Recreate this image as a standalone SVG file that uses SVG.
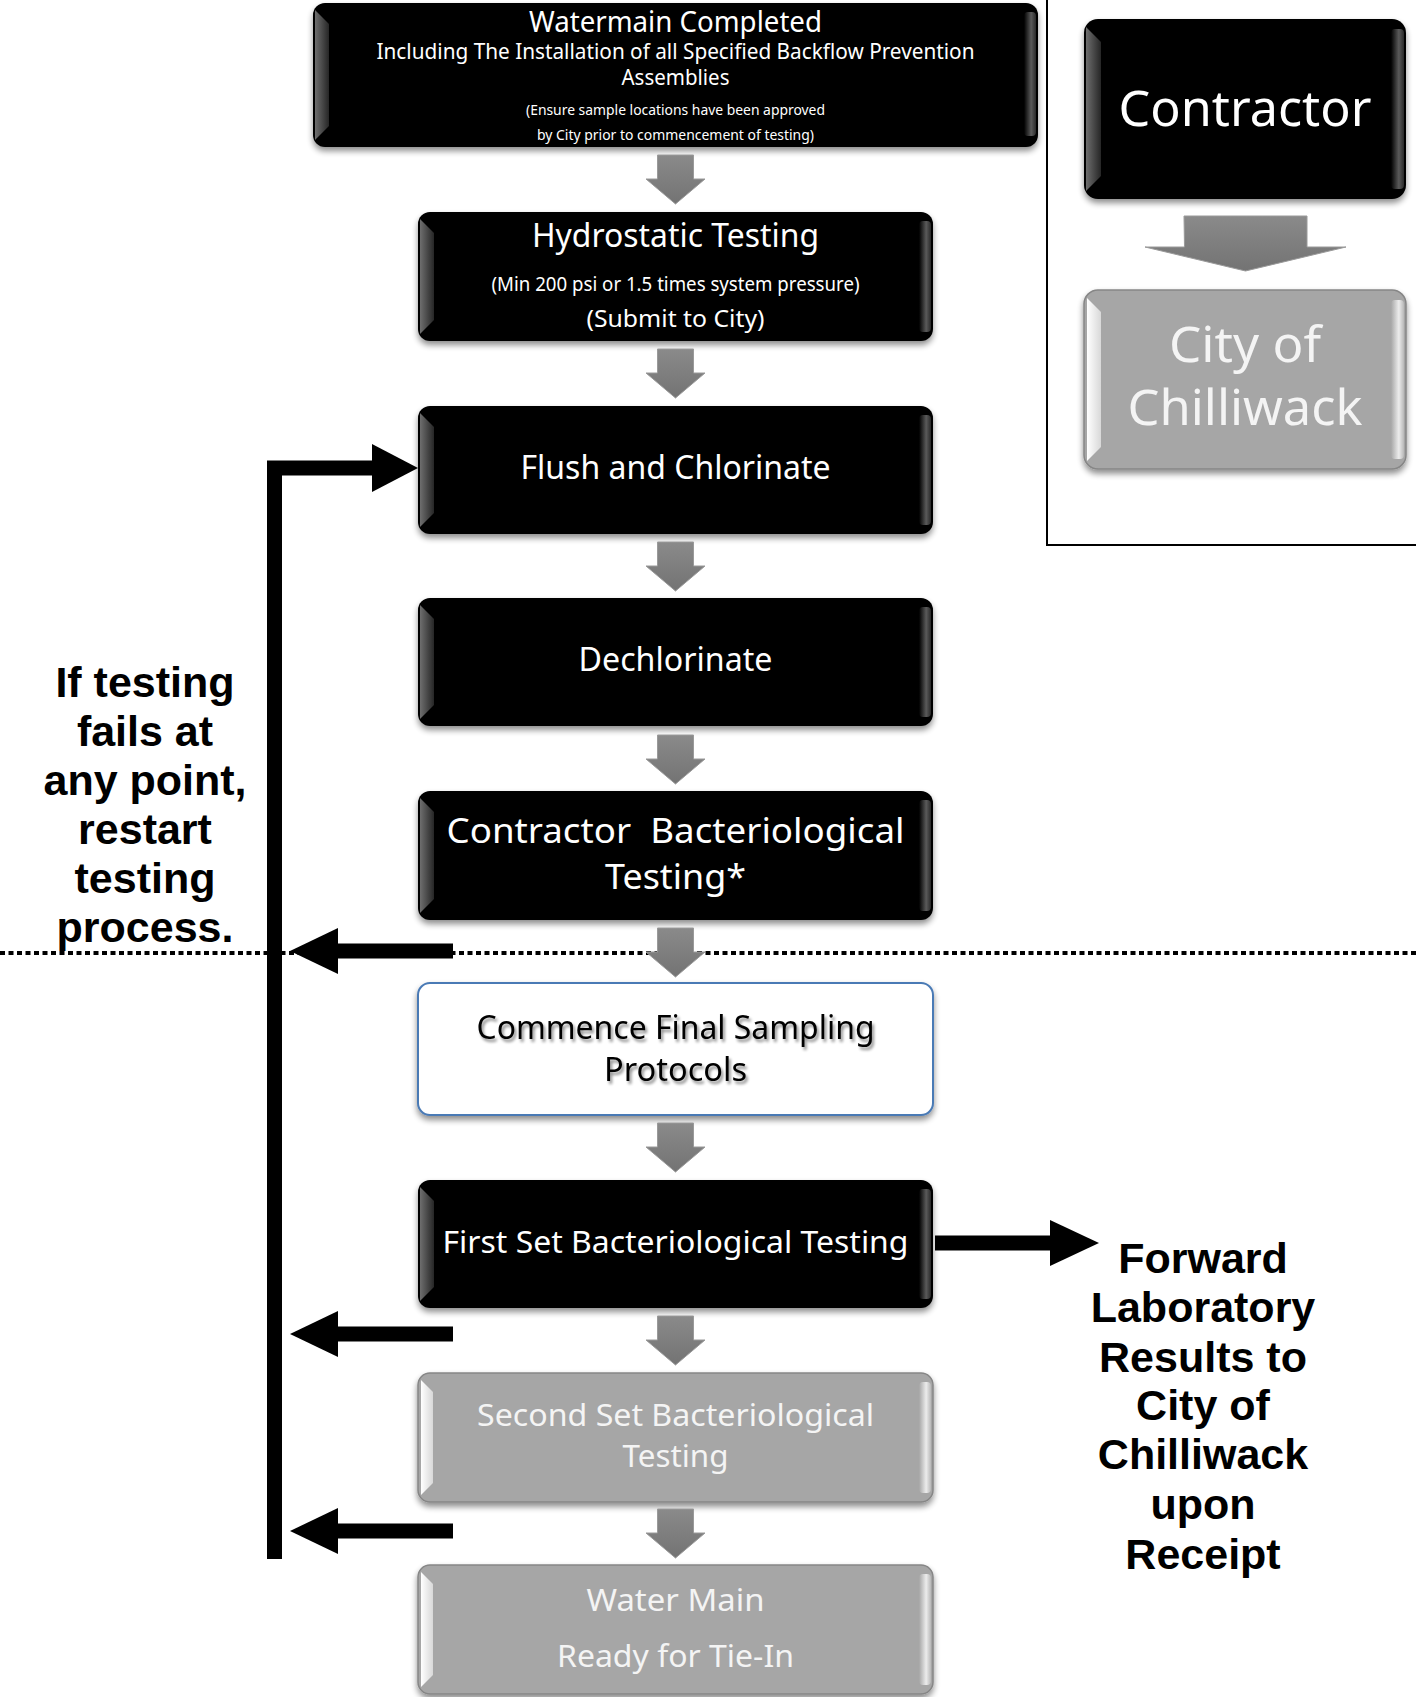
<svg xmlns="http://www.w3.org/2000/svg" width="1416" height="1697" viewBox="0 0 1416 1697">
<defs>
<filter id="sh" x="-10%" y="-10%" width="120%" height="130%">
<feGaussianBlur in="SourceAlpha" stdDeviation="3"/>
<feOffset dx="0" dy="4" result="b"/>
<feComponentTransfer><feFuncA type="linear" slope="0.45"/></feComponentTransfer>
<feMerge><feMergeNode/><feMergeNode in="SourceGraphic"/></feMerge>
</filter>
<filter id="tsh" x="-5%" y="-20%" width="110%" height="150%">
<feGaussianBlur in="SourceAlpha" stdDeviation="1.5"/>
<feOffset dx="2" dy="3"/>
<feComponentTransfer><feFuncA type="linear" slope="0.45"/></feComponentTransfer>
<feMerge><feMergeNode/><feMergeNode in="SourceGraphic"/></feMerge>
</filter>
<linearGradient id="gL" x1="0" y1="0" x2="1" y2="0">
<stop offset="0" stop-color="#6e6e6e"/><stop offset="1" stop-color="#262626"/>
</linearGradient>
<linearGradient id="gR" x1="0" y1="0" x2="1" y2="0">
<stop offset="0" stop-color="#000"/><stop offset="0.6" stop-color="#5a5a5a"/><stop offset="1" stop-color="#2a2a2a"/>
</linearGradient>
<linearGradient id="gLg" x1="0" y1="0" x2="1" y2="0">
<stop offset="0" stop-color="#ffffff"/><stop offset="1" stop-color="#d8d8d8"/>
</linearGradient>
<linearGradient id="gRg" x1="0" y1="0" x2="1" y2="0">
<stop offset="0" stop-color="#a6a6a6"/><stop offset="0.6" stop-color="#ececec"/><stop offset="1" stop-color="#b8b8b8"/>
</linearGradient>
<linearGradient id="gA" x1="0" y1="0" x2="0" y2="1">
<stop offset="0" stop-color="#8a8a8a"/><stop offset="1" stop-color="#737373"/>
</linearGradient>
</defs>
<style>
.blk{fill:#000;filter:url(#sh)}
.gry{fill:#a6a6a6;stroke:#868686;stroke-width:1.5;filter:url(#sh)}
.wht{fill:#fff;stroke:#4a7ab5;stroke-width:2;filter:url(#sh)}
.bl{fill:url(#gL)}
.br{fill:url(#gR)}
.blg{fill:url(#gLg)}
.brg{fill:url(#gRg)}
.t{font-family:"Noto Sans","Open Sans","Liberation Sans",sans-serif;text-anchor:middle;fill:#fff}
.tk{font-family:"Noto Sans","Open Sans","Liberation Sans",sans-serif;text-anchor:middle;fill:#000;filter:url(#tsh)}
.tg{font-family:"Noto Sans","Open Sans","Liberation Sans",sans-serif;text-anchor:middle;fill:#f4f4f4}
.b{font-family:"Liberation Sans",Arial,sans-serif;font-weight:bold;font-size:43px;text-anchor:middle;fill:#000}
.ga{fill:url(#gA);stroke:#9a9a9a;stroke-width:1}
.ln{fill:none;stroke:#000;stroke-width:15}
.ah{fill:#000}
.dot{fill:none;stroke:#000;stroke-width:4;stroke-dasharray:5 3.5}
.frm{fill:none;stroke:#000;stroke-width:2}
</style>

<line class="dot" x1="0" y1="953" x2="1416" y2="953"/>
<polyline class="frm" points="1047,0 1047,545 1416,545"/>

<g id="n-watermain">
<rect class="blk" x="313" y="3" width="725" height="144" rx="12"/>
<polygon class="bl" points="315,10 329,24 329,126 315,140"/>
<rect class="br" x="1024" y="12" width="12" height="124" rx="4"/>
<text class="t" x="675.5" y="32" font-size="29" textLength="293" lengthAdjust="spacingAndGlyphs">Watermain Completed</text>
<text class="t" x="675.5" y="59" font-size="21" textLength="598" lengthAdjust="spacingAndGlyphs">Including The Installation of all Specified Backflow Prevention</text>
<text class="t" x="675.5" y="85" font-size="21" textLength="108" lengthAdjust="spacingAndGlyphs">Assemblies</text>
<text class="t" x="675.5" y="115" font-size="14" textLength="299" lengthAdjust="spacingAndGlyphs">(Ensure sample locations have been approved</text>
<text class="t" x="675.5" y="140" font-size="14" textLength="277" lengthAdjust="spacingAndGlyphs">by City prior to commencement of testing)</text>
</g>

<g id="n-hydrostatic">
<rect class="blk" x="418" y="212" width="515" height="129" rx="12"/>
<polygon class="bl" points="420,219 434,233 434,320 420,334"/>
<rect class="br" x="919" y="221" width="12" height="111" rx="4"/>
<text class="t" x="675.5" y="247" font-size="32" textLength="287" lengthAdjust="spacingAndGlyphs">Hydrostatic Testing</text>
<text class="t" x="675.5" y="291" font-size="19" textLength="368" lengthAdjust="spacingAndGlyphs">(Min 200 psi or 1.5 times system pressure)</text>
<text class="t" x="675.5" y="327" font-size="24" textLength="178" lengthAdjust="spacingAndGlyphs">(Submit to City)</text>
</g>

<g id="n-flush">
<rect class="blk" x="418" y="406" width="515" height="128" rx="12"/>
<polygon class="bl" points="420,413 434,427 434,513 420,527"/>
<rect class="br" x="919" y="415" width="12" height="110" rx="4"/>
<text class="t" x="675.5" y="479" font-size="32" textLength="310" lengthAdjust="spacingAndGlyphs">Flush and Chlorinate</text>
</g>

<g id="n-dechlorinate">
<rect class="blk" x="418" y="598" width="515" height="128" rx="12"/>
<polygon class="bl" points="420,605 434,619 434,705 420,719"/>
<rect class="br" x="919" y="607" width="12" height="110" rx="4"/>
<text class="t" x="675.5" y="671" font-size="32" textLength="194" lengthAdjust="spacingAndGlyphs">Dechlorinate</text>
</g>

<g id="n-contractor-bact">
<rect class="blk" x="418" y="791" width="515" height="129" rx="12"/>
<polygon class="bl" points="420,798 434,812 434,899 420,913"/>
<rect class="br" x="919" y="800" width="12" height="111" rx="4"/>
<text class="t" x="675.5" y="843" font-size="35" textLength="458" lengthAdjust="spacingAndGlyphs" xml:space="preserve">Contractor  Bacteriological</text>
<text class="t" x="675.5" y="889" font-size="35" textLength="141" lengthAdjust="spacingAndGlyphs">Testing*</text>
</g>

<g id="n-commence">
<rect class="wht" x="418" y="983" width="515" height="132" rx="12"/>
<text class="tk" x="675.5" y="1039" font-size="32" textLength="398" lengthAdjust="spacingAndGlyphs">Commence Final Sampling</text>
<text class="tk" x="675.5" y="1081" font-size="32" textLength="143" lengthAdjust="spacingAndGlyphs">Protocols</text>
</g>

<g id="n-first">
<rect class="blk" x="418" y="1180" width="515" height="128" rx="12"/>
<polygon class="bl" points="420,1187 434,1201 434,1287 420,1301"/>
<rect class="br" x="919" y="1189" width="12" height="110" rx="4"/>
<text class="t" x="675.5" y="1253" font-size="31" textLength="466" lengthAdjust="spacingAndGlyphs">First Set Bacteriological Testing</text>
</g>

<g id="n-second">
<rect class="gry" x="418" y="1373" width="515" height="129" rx="12"/>
<polygon class="blg" points="421,1380 433,1392 433,1483 421,1495"/>
<rect class="brg" x="919" y="1382" width="12" height="111" rx="4"/>
<text class="tg" x="675.5" y="1426" font-size="31" textLength="397" lengthAdjust="spacingAndGlyphs">Second Set Bacteriological</text>
<text class="tg" x="675.5" y="1467" font-size="31" textLength="106" lengthAdjust="spacingAndGlyphs">Testing</text>
</g>

<g id="n-watermain-ready">
<rect class="gry" x="418" y="1565" width="515" height="129" rx="12"/>
<polygon class="blg" points="421,1572 433,1584 433,1675 421,1687"/>
<rect class="brg" x="919" y="1574" width="12" height="111" rx="4"/>
<text class="tg" x="675.5" y="1611" font-size="31" textLength="178" lengthAdjust="spacingAndGlyphs">Water Main</text>
<text class="tg" x="675.5" y="1667" font-size="31" textLength="237" lengthAdjust="spacingAndGlyphs">Ready for Tie-In</text>
</g>

<g id="n-legend-contractor">
<rect class="blk" x="1084" y="19" width="322" height="180" rx="14"/>
<polygon class="bl" points="1086,27 1101,42 1101,176 1086,191"/>
<rect class="br" x="1391" y="29" width="13" height="160" rx="4"/>
<text class="t" x="1245" y="126" font-size="50" textLength="253" lengthAdjust="spacingAndGlyphs">Contractor</text>
</g>

<g id="n-legend-city">
<rect class="gry" x="1084" y="290" width="322" height="179" rx="14"/>
<polygon class="blg" points="1087,298 1101,312 1101,447 1087,461"/>
<rect class="brg" x="1391" y="300" width="13" height="159" rx="4"/>
<text class="tg" x="1245" y="362" font-size="50" textLength="152" lengthAdjust="spacingAndGlyphs">City of</text>
<text class="tg" x="1245" y="425" font-size="50" textLength="235" lengthAdjust="spacingAndGlyphs">Chilliwack</text>
</g>

<g id="n-note-left">
<text class="b" x="145" y="697">If testing</text>
<text class="b" x="145" y="746">fails at</text>
<text class="b" x="145" y="795">any point,</text>
<text class="b" x="145" y="844">restart</text>
<text class="b" x="145" y="893">testing</text>
<text class="b" x="145" y="942">process.</text>
</g>

<g id="n-note-right">
<text class="b" x="1203" y="1273">Forward</text>
<text class="b" x="1203" y="1322">Laboratory</text>
<text class="b" x="1203" y="1372">Results to</text>
<text class="b" x="1203" y="1420">City of</text>
<text class="b" x="1203" y="1469">Chilliwack</text>
<text class="b" x="1203" y="1519">upon</text>
<text class="b" x="1203" y="1569">Receipt</text>
</g>

<g id="connectors">
<path class="ga" d="M657.5 155 h36 v24 h11.5 l-29.5 25 l-29.5 -25 h11.5 z"/>
<path class="ga" d="M657.5 349 h36 v24 h11.5 l-29.5 25 l-29.5 -25 h11.5 z"/>
<path class="ga" d="M657.5 542 h36 v24 h11.5 l-29.5 25 l-29.5 -25 h11.5 z"/>
<path class="ga" d="M657.5 735 h36 v24 h11.5 l-29.5 25 l-29.5 -25 h11.5 z"/>
<path class="ga" d="M657.5 928 h36 v24 h11.5 l-29.5 25 l-29.5 -25 h11.5 z"/>
<path class="ga" d="M657.5 1123 h36 v24 h11.5 l-29.5 25 l-29.5 -25 h11.5 z"/>
<path class="ga" d="M657.5 1316 h36 v24 h11.5 l-29.5 25 l-29.5 -25 h11.5 z"/>
<path class="ga" d="M657.5 1509 h36 v24 h11.5 l-29.5 25 l-29.5 -25 h11.5 z"/>
<path class="ga" d="M1184 216 h123 v31 h39 l-100.5 24 l-100.5 -24 h39.5 z"/>

<polyline class="ln" points="274.5,1559 274.5,468 374,468"/>
<polygon class="ah" points="372,444 418,468 372,492"/>

<line class="ln" x1="336" y1="951" x2="453" y2="951"/>
<polygon class="ah" points="338,928 290,951 338,974"/>
<line class="ln" x1="336" y1="1334" x2="453" y2="1334"/>
<polygon class="ah" points="338,1311 290,1334 338,1357"/>
<line class="ln" x1="336" y1="1531" x2="453" y2="1531"/>
<polygon class="ah" points="338,1508 290,1531 338,1554"/>

<line class="ln" x1="935" y1="1243" x2="1052" y2="1243"/>
<polygon class="ah" points="1050,1220 1099,1243 1050,1266"/>
</g>
</svg>
